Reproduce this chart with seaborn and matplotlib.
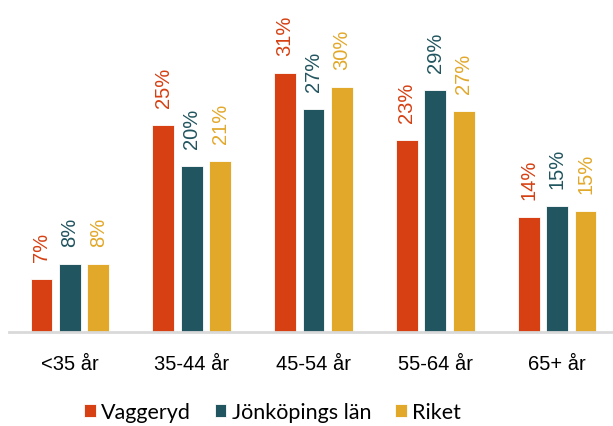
import pandas as pd
import matplotlib.pyplot as plt
import seaborn as sns


# =========================
# DATA
# =========================

age_groups = ["<35 år", "35-44 år", "45-54 år", "55-64 år", "65+ år"]

series_names = ["Vaggeryd", "Jönköpings län", "Riket"]

vaggeryd = [6.4, 25.1, 31.4, 23.3, 13.9]
jonkoping = [8.2, 20.1, 27.0, 29.4, 15.3]
riket = [8.2, 20.7, 29.7, 26.8, 14.7]

# rounded labels as printed above the bars
vaggeryd_labels = [7, 25, 31, 23, 14]
jonkoping_labels = [8, 20, 27, 29, 15]
riket_labels = [8, 21, 30, 27, 15]

colors = ["#D64012", "#21555F", "#E2A82A"]


df = pd.DataFrame({
    "age": age_groups * 3,
    "serie": [s for s in series_names for _ in age_groups],
    "value": vaggeryd + jonkoping + riket,
})

label_lists = [vaggeryd_labels, jonkoping_labels, riket_labels]


# =========================
# PLOT
# =========================

sns.set_style("white")
plt.rcParams["font.family"] = ["Liberation Sans", "DejaVu Sans"]

fig = plt.figure(figsize=(6.13, 4.27), dpi=100)

ax = fig.add_axes([9 / 613, 94 / 427, 609 / 613, 333 / 427])

sns.barplot(
    data=df,
    x="age",
    y="value",
    hue="serie",
    hue_order=series_names,
    palette=colors,
    saturation=1,
    width=0.70,
    gap=0.23,
    edgecolor="white",
    linewidth=0.6,
    ax=ax,
)

for container, labels, color in zip(ax.containers, label_lists, colors):
    ax.bar_label(
        container,
        labels=[f"{v}%" for v in labels],
        rotation=90,
        padding=13,
        color=color,
        fontsize=14.5,
    )

ax.set_xlim(-0.5, 4.5)
ax.set_ylim(0, 40.4)

ax.set_xlabel("")
ax.set_ylabel("")
ax.set_yticks([])

ax.tick_params(axis="x", length=0, pad=16, labelsize=14.5, labelcolor="black")

for side in ["top", "right", "left"]:
    ax.spines[side].set_visible(False)

ax.spines["bottom"].set_color("#D9D9D9")
ax.spines["bottom"].set_linewidth(2)

handles, labels = ax.get_legend_handles_labels()
ax.legend_.remove()

leg = fig.legend(
    handles,
    labels,
    loc="center",
    bbox_to_anchor=(272.5 / 613, 1 - 413 / 427),
    ncol=3,
    frameon=False,
    handlelength=0.55,
    handleheight=0.55,
    handletextpad=0.25,
    columnspacing=1.1,
    prop={"family": "Lato", "size": 15.5},
)

for text in leg.get_texts():
    text.set_color("black")

fig.savefig("out.png", dpi=100)
